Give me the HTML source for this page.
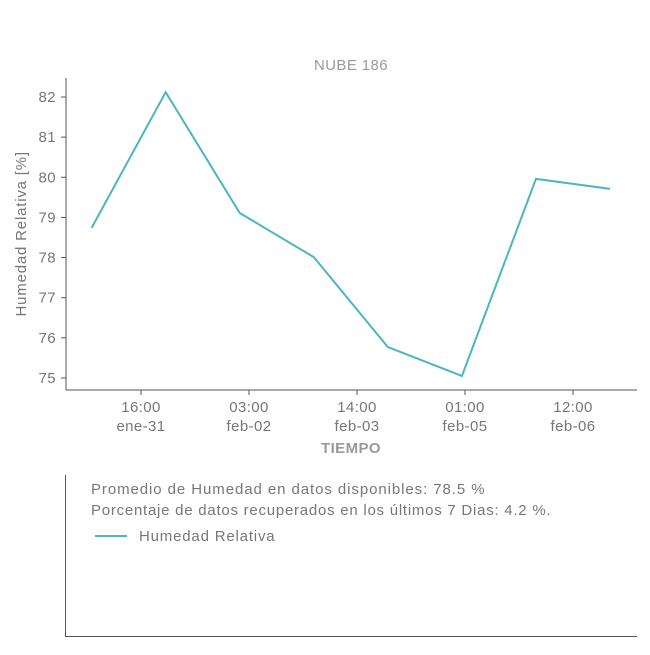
<!DOCTYPE html>
<html><head><meta charset="utf-8"><style>
body{margin:0;background:#fff;font-family:"Liberation Sans",sans-serif;}
svg text{font-family:"Liberation Sans",sans-serif;fill:#777;letter-spacing:0.4px;}
</style></head><body>
<svg width="650" height="650">
<text x="351" y="70" text-anchor="middle" font-size="15" style="fill:#999">NUBE 186</text>
<g id="yaxis"></g>
<g id="xaxis"></g>
<line x1="66" y1="78" x2="66" y2="390" stroke="#555"/>
<line x1="66" y1="390" x2="637" y2="390" stroke="#555"/>
<path id="series" fill="none" stroke="#4bb5c1" stroke-width="2"/>
<text x="26" y="234" transform="rotate(-90 26 234)" text-anchor="middle" font-size="15" textLength="165">Humedad Relativa [%]</text>
<text x="351" y="453" text-anchor="middle" font-size="15" font-weight="bold" style="fill:#999">TIEMPO</text>
<line x1="65.5" y1="475" x2="65.5" y2="637" stroke="#555"/>
<line x1="65" y1="636.5" x2="637" y2="636.5" stroke="#555"/>
<text x="91" y="494" font-size="15" textLength="394">Promedio de Humedad en datos disponibles: 78.5 %</text>
<text x="91" y="515" font-size="15" textLength="460">Porcentaje de datos recuperados en los últimos 7 Dias: 4.2 %.</text>
<line x1="95" y1="536" x2="127" y2="536" stroke="#4bb5c1" stroke-width="2"/>
<text x="139" y="541" font-size="15" textLength="136">Humedad Relativa</text>
</svg>
<script>
const hours=[0,24,48,72,96,120,144,168];
const values=[78.74,82.12,79.11,78.01,75.77,75.05,79.96,79.71];
const yTicks=[75,76,77,78,79,80,81,82];
const xTickHours=[16,51,86,121,156];
const xTickTimes=["16:00","03:00","14:00","01:00","12:00"];
const xTickDates=["ene-31","feb-02","feb-03","feb-05","feb-06"];
const ns="http://www.w3.org/2000/svg";
const ys=v=>97+(82-v)*40.14;
const xs=t=>141+(t-16)*108/35;
const ya=document.getElementById('yaxis'),xa=document.getElementById('xaxis');
yTicks.forEach(v=>{
 const l=document.createElementNS(ns,'line');
 
 
 l.setAttribute('x1',61);l.setAttribute('x2',66);l.setAttribute('y1',ys(v));l.setAttribute('y2',ys(v));l.setAttribute('stroke','#555');ya.appendChild(l);
 const t=document.createElementNS(ns,'text');
 
 
 t.setAttribute('x',56);t.setAttribute('y',ys(v)+5);t.setAttribute('text-anchor','end');t.setAttribute('font-size','15');t.textContent=v;ya.appendChild(t);
});
xTickHours.forEach((h,i)=>{
 const x=xs(h);
 const l=document.createElementNS(ns,'line');
 
 
 l.setAttribute('x1',x);l.setAttribute('x2',x);l.setAttribute('y1',390);l.setAttribute('y2',395);l.setAttribute('stroke','#555');xa.appendChild(l);
 [xTickTimes[i],xTickDates[i]].forEach((s,j)=>{
  const t=document.createElementNS(ns,'text');
  
  
  t.setAttribute('x',x);t.setAttribute('y',412+j*19);t.setAttribute('text-anchor','middle');t.setAttribute('font-size','15');t.textContent=s;xa.appendChild(t);
 });
});
document.getElementById('series').setAttribute('d',hours.map((h,i)=>(i?'L':'M')+xs(h)+','+ys(values[i])).join(' '));
</script>
</body></html>
